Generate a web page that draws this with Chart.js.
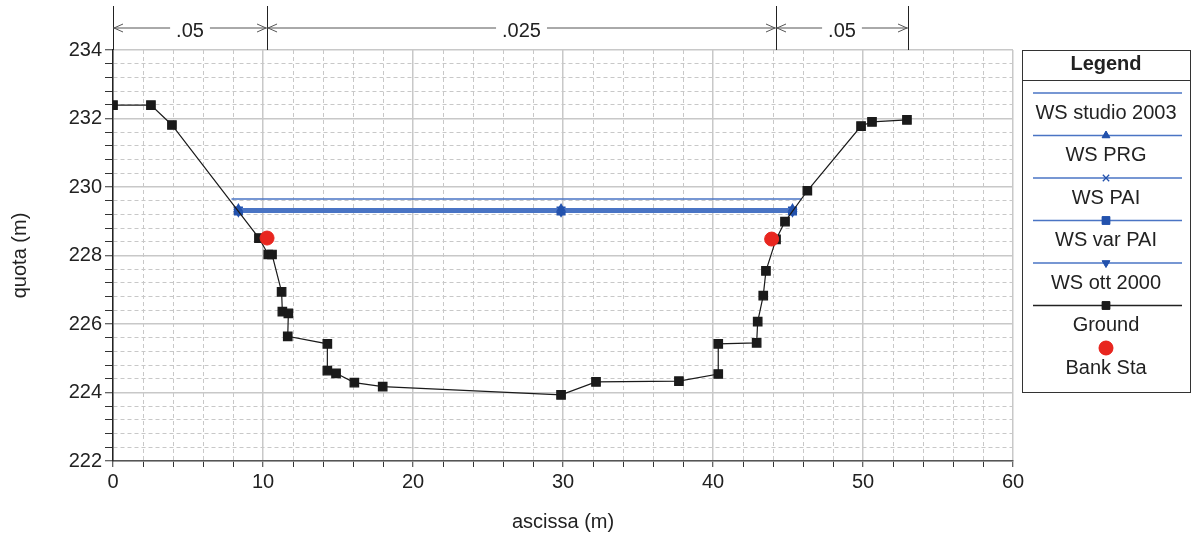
<!DOCTYPE html>
<html>
<head>
<meta charset="utf-8">
<script src="https://cdn.jsdelivr.net/npm/chart.js@4/dist/chart.umd.min.js"></script>
<style>
  html, body { margin: 0; background: #fff; }
</style>
</head>
<body>
<canvas id="xsChart" width="1194" height="543"></canvas>
<script>
////////////////////////////// Data //////////////////////////////

// Ground profile (station, elevation)
const groundX = [0, 2.53, 3.93, 9.73, 10.35, 10.6, 11.24, 11.29, 11.69, 11.65, 14.29, 14.29, 14.87, 16.09, 17.98,
                 29.87, 32.2, 37.73, 40.35, 40.35, 42.91, 42.98, 43.35, 43.53, 44.2, 44.8, 46.29, 49.87, 50.6, 52.93];
const groundY = [232.39, 232.39, 231.81, 228.51, 228.03, 228.03, 226.94, 226.36, 226.31, 225.64, 225.42, 224.64, 224.56, 224.29, 224.17,
                 223.93, 224.31, 224.33, 224.54, 225.42, 225.45, 226.07, 226.83, 227.55, 228.47, 228.99, 229.89, 231.78, 231.90, 231.96];

// Bank stations
const bankX = [10.27, 43.91];
const bankY = [228.51, 228.48];

// Water surfaces
const wsStudioX = [7.9, 45.9];
const wsStudioY = [229.65, 229.65];
const wsX = [8.36, 29.87, 45.3];
const wsPrgY = [229.36, 229.36, 229.36];
const wsPaiY = [229.31, 229.31, 229.31];
const wsVarPaiY = [229.30, 229.30, 229.30];
const wsOttY = [229.27, 229.27, 229.27];

// Manning's n regions along the top
const nBreaks = [0, 10.27, 44.2, 53];
const nLabels = ['.05', '.025', '.05'];

// Legend entries
const legendNames = ['WS studio 2003', 'WS PRG', 'WS PAI', 'WS var PAI', 'WS ott 2000', 'Ground', 'Bank Sta'];

const FONT = '"Liberation Sans", Arial, sans-serif';
const FSIZE = 20;
const wsLine = '#4a74c4';
const wsMark = '#2352ad';

const toPts = (xs, ys) => xs.map((x, i) => ({ x: x, y: ys[i] }));

////////////////////////////// Plugins //////////////////////////////

// Dimension lines for Manning's n above the plot
const nRegionsPlugin = {
    id: 'nRegions',
    afterDraw(chart) {
        const ctx = chart.ctx;
        const xs = chart.scales.x;
        const top = chart.chartArea.top;
        const lineY = 28;
        ctx.save();
        ctx.strokeStyle = '#222';
        ctx.lineWidth = 1;
        nBreaks.forEach(b => {
            const px = Math.round(xs.getPixelForValue(b)) + 0.5;
            ctx.beginPath();
            ctx.moveTo(px, 6);
            ctx.lineTo(px, top);
            ctx.stroke();
        });
        ctx.font = FSIZE + 'px ' + FONT;
        ctx.textAlign = 'center';
        ctx.textBaseline = 'middle';
        for (let i = 0; i < nLabels.length; i++) {
            const x1 = xs.getPixelForValue(nBreaks[i]);
            const x2 = xs.getPixelForValue(nBreaks[i + 1]);
            const mid = (x1 + x2) / 2;
            const tw = ctx.measureText(nLabels[i]).width / 2 + 6;
            ctx.strokeStyle = '#555';
            ctx.beginPath();
            ctx.moveTo(x1, lineY); ctx.lineTo(mid - tw, lineY);
            ctx.moveTo(mid + tw, lineY); ctx.lineTo(x2, lineY);
            // arrow heads
            ctx.moveTo(x1 + 10, lineY - 4); ctx.lineTo(x1 + 1, lineY); ctx.lineTo(x1 + 10, lineY + 4);
            ctx.moveTo(x2 - 10, lineY - 4); ctx.lineTo(x2 - 1, lineY); ctx.lineTo(x2 - 10, lineY + 4);
            ctx.stroke();
            ctx.fillStyle = '#222';
            ctx.fillText(nLabels[i], mid, lineY + 3);
        }
        ctx.restore();
    }
};

// Boxed legend on the right
const boxLegendPlugin = {
    id: 'boxLegend',
    afterDraw(chart) {
        const ctx = chart.ctx;
        const left = 1022, right = 1190, top = 50, bottom = 392;
        const cx = (left + right) / 2;
        ctx.save();
        ctx.strokeStyle = '#333';
        ctx.lineWidth = 1;
        ctx.strokeRect(left + 0.5, top + 0.5, right - left, bottom - top);
        ctx.beginPath();
        ctx.moveTo(left, 80.5); ctx.lineTo(right, 80.5);
        ctx.stroke();
        ctx.fillStyle = '#222';
        ctx.textAlign = 'center';
        ctx.textBaseline = 'middle';
        ctx.font = 'bold ' + FSIZE + 'px ' + FONT;
        ctx.fillText('Legend', cx, 64);
        ctx.font = FSIZE + 'px ' + FONT;
        const styles = ['none', 'triangle', 'crossRot', 'rect', 'triangleDown', 'rect', 'circle'];
        legendNames.forEach((name, i) => {
            const ly = 93 + i * 42.5;
            const ty = ly + 20;
            if (i < 6) {
                ctx.strokeStyle = i === 5 ? '#222' : wsLine;
                ctx.lineWidth = 1.5;
                ctx.beginPath();
                ctx.moveTo(1033, ly); ctx.lineTo(1182, ly);
                ctx.stroke();
            }
            const st = styles[i];
            if (st !== 'none') {
                const color = i === 6 ? '#e8261f' : (i === 5 ? '#1a1a1a' : wsMark);
                const opts = {
                    pointStyle: st === 'triangleDown' ? 'triangle' : st,
                    rotation: st === 'triangleDown' ? 180 : 0,
                    radius: i === 6 ? 7 : (st === 'rect' ? 5.5 : 4.5),
                    borderWidth: st === 'crossRot' ? 1.3 : 1
                };
                ctx.fillStyle = color;
                ctx.strokeStyle = color;
                ctx.lineWidth = opts.borderWidth;
                Chart.helpers.drawPoint(ctx, opts, cx, ly);
                if (st !== 'crossRot') ctx.fill();
            }
            ctx.fillStyle = '#222';
            ctx.fillText(name, cx, ty);
        });
        ctx.restore();
    }
};

////////////////////////////// Chart //////////////////////////////

const wsDataset = (label, ys, style, rot, r) => ({
    label: label,
    data: toPts(wsX, ys),
    showLine: true,
    borderColor: wsLine,
    borderWidth: 2,
    pointStyle: style,
    rotation: rot,
    pointRadius: r,
    pointBackgroundColor: wsMark,
    pointBorderColor: wsMark,
    pointBorderWidth: 1.3,
    order: 2
});

const isMajorY = v => {
    const r = Math.round(v);
    return Math.abs(v - r) < 1e-6 && r % 2 === 0;
};

const ctx = document.getElementById('xsChart').getContext('2d');
const myChart = new Chart(ctx, {
    type: 'scatter',
    data: {
        datasets: [
            {
                label: 'Bank Sta',
                data: toPts(bankX, bankY),
                pointStyle: 'circle',
                pointRadius: 7,
                pointBackgroundColor: '#e8261f',
                pointBorderColor: '#e8261f',
                showLine: false,
                order: 0
            },
            {
                label: 'WS studio 2003',
                data: toPts(wsStudioX, wsStudioY),
                showLine: true,
                borderColor: wsLine,
                borderWidth: 1.5,
                pointRadius: 0,
                order: 3
            },
            wsDataset('WS PRG', wsPrgY, 'triangle', 0, 4.5),
            wsDataset('WS PAI', wsPaiY, 'crossRot', 0, 4.5),
            wsDataset('WS var PAI', wsVarPaiY, 'rect', 0, 5.5),
            wsDataset('WS ott 2000', wsOttY, 'triangle', 180, 4.5),
            {
                label: 'Ground',
                data: toPts(groundX, groundY),
                showLine: true,
                borderColor: '#1a1a1a',
                borderWidth: 1.2,
                pointStyle: 'rect',
                pointRadius: 6,
                pointBackgroundColor: '#1a1a1a',
                pointBorderColor: '#1a1a1a',
                order: 1
            }
        ]
    },
    options: {
        responsive: false,
        animation: false,
        devicePixelRatio: 1,
        layout: { padding: { top: 50, right: 181, left: 0, bottom: 0 } },
        plugins: {
            legend: { display: false },
            tooltip: { enabled: false }
        },
        scales: {
            x: {
                type: 'linear',
                min: 0,
                max: 60,
                afterFit: s => { s.height = 82; },
                ticks: {
                    stepSize: 2,
                    autoSkip: false,
                    maxRotation: 0,
                    padding: 3,
                    color: '#222',
                    font: { family: FONT, size: FSIZE },
                    callback: v => (Math.round(v) % 10 === 0 ? String(Math.round(v)) : '')
                },
                grid: {
                    color: '#c8c8c8',
                    lineWidth: c => (c.tick && Math.round(c.tick.value) % 10 === 0 ? 1.5 : 1),
                    tickLength: 6,
                    tickColor: '#333',
                    tickWidth: 1,
                    tickBorderDash: []
                },
                border: {
                    color: '#555',
                    width: 1.5,
                    dash: c => (c.tick && Math.round(c.tick.value) % 10 !== 0 ? [4, 3] : [])
                },
                title: {
                    display: true,
                    text: 'ascissa (m)',
                    color: '#222',
                    font: { family: FONT, size: FSIZE },
                    padding: { bottom: 9 }
                }
            },
            y: {
                type: 'linear',
                min: 222,
                max: 234,
                afterFit: s => { s.width = 113; },
                ticks: {
                    stepSize: 0.4,
                    autoSkip: false,
                    padding: 3,
                    color: '#222',
                    font: { family: FONT, size: FSIZE },
                    callback: v => (isMajorY(v) ? String(Math.round(v)) : '')
                },
                grid: {
                    color: '#c8c8c8',
                    lineWidth: c => (c.tick && isMajorY(c.tick.value) ? 1.5 : 1),
                    tickLength: 8,
                    tickColor: '#333',
                    tickWidth: 1,
                    tickBorderDash: []
                },
                border: {
                    color: '#222',
                    width: 1.5,
                    dash: c => (!c.tick || isMajorY(c.tick.value) ? [] : [4, 3])
                },
                title: {
                    display: true,
                    text: 'quota (m)',
                    color: '#222',
                    font: { family: FONT, size: FSIZE },
                    padding: { top: 8 }
                }
            }
        }
    },
    plugins: [nRegionsPlugin, boxLegendPlugin]
});
</script>
</body>
</html>
